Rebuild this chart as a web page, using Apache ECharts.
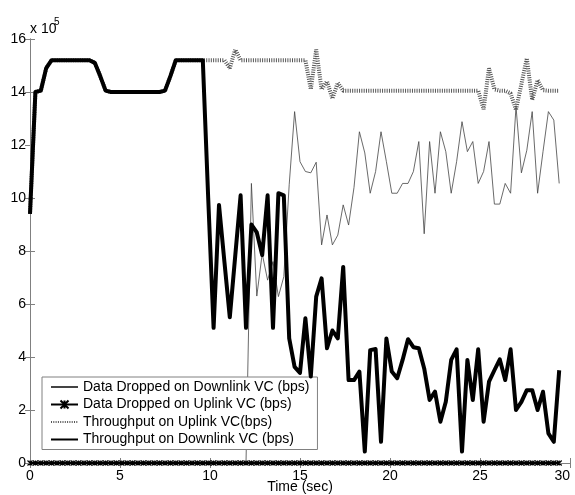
<!DOCTYPE html>
<html>
<head>
<meta charset="utf-8">
<script src="https://cdn.jsdelivr.net/npm/echarts@6/dist/echarts.min.js"></script>
<style>
html,body{margin:0;padding:0;background:#fff;}
#chart{width:575px;height:495px;}
</style>
</head>
<body>
<div id="chart"></div>
<script>
// Time (sec)
var times = [0,0.3,0.6,0.9,1.2,1.5,1.8,2.1,2.4,2.7,3,3.3,3.6,3.9,4.2,4.5,4.8,5.1,5.4,5.7,
  6,6.3,6.6,6.9,7.2,7.5,7.8,8.1,8.4,8.7,9,9.3,9.6,9.9,10.2,10.5,10.8,11.1,11.4,11.7,
  12,12.3,12.6,12.9,13.2,13.5,13.8,14.1,14.4,14.7,15,15.3,15.6,15.9,16.2,16.5,16.8,17.1,17.4,17.7,
  18,18.3,18.6,18.9,19.2,19.5,19.8,20.1,20.4,20.7,21,21.3,21.6,21.9,22.2,22.5,22.8,23.1,23.4,23.7,
  24,24.3,24.6,24.9,25.2,25.5,25.8,26.1,26.4,26.7,27,27.3,27.6,27.9,28.2,28.5,28.8,29.1,29.4];

// values in units of 1e5 bps
var dropDownlink = [0,0,0,0,0,0,0,0,0,0,0,0,0,0,0,0,0,0,0,0,
  0,0,0,0,0,0,0,0,0,0,0,0,0,0,0,0,0,0,0,0,
  0,10.55,6.3,7.9,6.9,7.6,6.28,7.03,10.5,13.26,11.37,11.0,10.95,11.35,8.23,9.36,8.23,8.6,9.74,8.98,
  10.4,12.5,11.7,10.18,11.0,12.5,11.37,10.18,10.18,10.55,10.55,11.0,12.13,8.65,12.13,10.18,12.5,11.75,10.18,11.37,
  12.88,11.75,12.13,10.55,11.0,12.13,9.77,9.77,10.55,10.18,13.45,10.95,11.8,13.26,10.18,11.75,13.26,12.94,10.55];

var dropUplink = [0,0,0,0,0,0,0,0,0,0,0,0,0,0,0,0,0,0,0,0,
  0,0,0,0,0,0,0,0,0,0,0,0,0,0,0,0,0,0,0,0,
  0,0,0,0,0,0,0,0,0,0,0,0,0,0,0,0,0,0,0,0,
  0,0,0,0,0,0,0,0,0,0,0,0,0,0,0,0,0,0,0,0,
  0,0,0,0,0,0,0,0,0,0,0,0,0,0,0,0,0,0,0];

var thrUplink = [9.4,14.0,14.05,14.9,15.2,15.2,15.2,15.2,15.2,15.2,15.2,15.2,15.1,14.6,14.05,14.0,14.0,14.0,14.0,14.0,
  14.0,14.0,14.0,14.0,14.0,14.05,14.6,15.2,15.2,15.2,15.2,15.2,15.2,15.2,15.2,15.2,15.2,14.9,15.6,15.2,
  15.2,15.2,15.2,15.2,15.2,15.2,15.2,15.2,15.2,15.2,15.2,15.2,14.1,15.6,14.1,14.4,13.75,14.35,14.05,14.05,
  14.05,14.05,14.05,14.05,14.05,14.05,14.05,14.05,14.05,14.05,14.05,14.05,14.05,14.05,14.05,14.05,14.05,14.05,14.05,14.05,
  14.05,14.05,14.05,14.05,13.35,14.9,14.1,14.05,14.05,13.95,13.32,14.3,15.27,13.7,14.45,14.07,14.05,14.05,14.05];

var thrDownlink = [9.4,14.0,14.05,14.9,15.2,15.2,15.2,15.2,15.2,15.2,15.2,15.2,15.1,14.6,14.05,14.0,14.0,14.0,14.0,14.0,
  14.0,14.0,14.0,14.0,14.0,14.05,14.6,15.2,15.2,15.2,15.2,15.2,15.2,10.0,5.1,9.74,7.6,5.5,7.8,10.1,
  5.1,9.0,8.7,7.85,10.1,5.1,10.18,10.1,4.7,3.63,3.4,5.46,3.26,6.28,6.97,4.33,5.0,4.7,7.4,3.13,
  3.13,3.45,0.43,4.26,4.3,0.8,4.7,3.45,3.2,3.89,4.67,4.37,4.33,3.57,2.38,2.69,1.56,2.31,3.89,4.29,
  0.43,3.89,2.38,4.29,1.56,3.07,3.5,3.91,3.13,4.29,2.0,2.31,2.75,2.75,2.0,2.69,1.12,0.8,3.5];

var seriesNames = ['Data Dropped on Downlink VC (bps)', 'Data Dropped on Uplink VC (bps)',
  'Throughput on Uplink VC(bps)', 'Throughput on Downlink VC (bps)'];
var xTicks = [0, 5, 10, 15, 20, 25, 30];
var yTicks = [0, 2, 4, 6, 8, 10, 12, 14, 16];

function pairs(ys) { return times.map(function (t, i) { return [t, ys[i]]; }); }

var FONT = 'Liberation Sans, Arial, Helvetica, sans-serif';
var AX = '#808080';
var noSym = {color: 'rgba(0,0,0,0)', borderColor: 'rgba(0,0,0,0)', borderWidth: 0};

var chart = echarts.init(document.getElementById('chart'), null, {renderer: 'canvas'});
chart.setOption({
  animation: false,
  backgroundColor: '#fff',
  grid: {left: 30, right: 5, top: 39, bottom: 32, containLabel: false, outerBoundsMode: 'none'},
  textStyle: {fontFamily: FONT},
  xAxis: [{
    type: 'value', min: xTicks[0], max: xTicks[xTicks.length - 1], interval: 5,
    position: 'bottom',
    name: 'Time (sec)', nameLocation: 'middle', nameGap: 17, nameMoveOverlap: false,
    nameTextStyle: {fontSize: 14, color: '#000', fontFamily: FONT},
    axisLine: {show: true, lineStyle: {color: AX, width: 1}},
    axisTick: {show: true, inside: true, length: 5, lineStyle: {color: AX}},
    axisLabel: {fontSize: 14, color: '#000', margin: 6, fontFamily: FONT, alignMaxLabel: 'right'},
    splitLine: {show: false}
  }, {
    type: 'value', min: xTicks[0], max: xTicks[xTicks.length - 1], interval: 5,
    position: 'top',
    axisLine: {show: true, lineStyle: {color: AX, width: 1}},
    axisTick: {show: true, inside: true, length: 5, lineStyle: {color: AX}},
    axisLabel: {show: false},
    splitLine: {show: false}
  }],
  yAxis: [{
    type: 'value', min: yTicks[0], max: yTicks[yTicks.length - 1], interval: 2,
    position: 'left',
    axisLine: {show: true, lineStyle: {color: AX, width: 1}},
    axisTick: {show: true, inside: true, length: 5, lineStyle: {color: AX}},
    axisLabel: {fontSize: 14, color: '#000', margin: 4, fontFamily: FONT},
    splitLine: {show: false}
  }, {
    type: 'value', min: yTicks[0], max: yTicks[yTicks.length - 1], interval: 2,
    position: 'right',
    axisLine: {show: true, lineStyle: {color: AX, width: 1}},
    axisTick: {show: true, inside: true, length: 5, lineStyle: {color: AX}},
    axisLabel: {show: false},
    splitLine: {show: false}
  }],
  legend: {
    orient: 'vertical', left: 42, top: 377,
    itemWidth: 27, itemHeight: 10, itemGap: 3.5,
    padding: [3, 8, 3, 8],
    backgroundColor: '#fff', borderColor: AX, borderWidth: 1, borderRadius: 0,
    textStyle: {fontSize: 14, color: '#000', fontFamily: FONT},
    data: [
      {name: seriesNames[0], itemStyle: noSym},
      {name: seriesNames[1]},
      {name: seriesNames[2], itemStyle: noSym},
      {name: seriesNames[3], itemStyle: noSym}
    ]
  },
  graphic: [
    {type: 'text', left: 30, top: 22, style: {text: 'x 10', fontSize: 14, fill: '#000', font: '14px ' + FONT}},
    {type: 'text', left: 54, top: 17, style: {text: '5', fontSize: 10, fill: '#000', font: '10px ' + FONT}}
  ],
  series: [{
    name: seriesNames[0], type: 'line', data: pairs(dropDownlink),
    symbol: 'none', lineStyle: {color: '#444', width: 0.8}, itemStyle: {color: '#444'}, z: 2
  }, {
    name: seriesNames[1], type: 'line', data: pairs(dropUplink),
    symbol: 'path://M0,0L10,10M10,0L0,10M5,0L5,10', symbolSize: 5, showSymbol: true,
    lineStyle: {color: '#000', width: 2},
    itemStyle: {color: '#000', borderColor: '#000', borderWidth: 1.2}, z: 3
  }, {
    name: seriesNames[2], type: 'line', data: pairs(thrUplink),
    symbol: 'none', lineStyle: {color: '#555', width: 4, type: [1, 1.3], cap: 'butt'},
    itemStyle: {color: '#555'}, z: 4
  }, {
    name: seriesNames[3], type: 'line', data: pairs(thrDownlink),
    symbol: 'none', lineStyle: {color: '#000', width: 4, join: 'round'}, itemStyle: {color: '#000'}, z: 5
  }]
});
</script>
</body>
</html>
